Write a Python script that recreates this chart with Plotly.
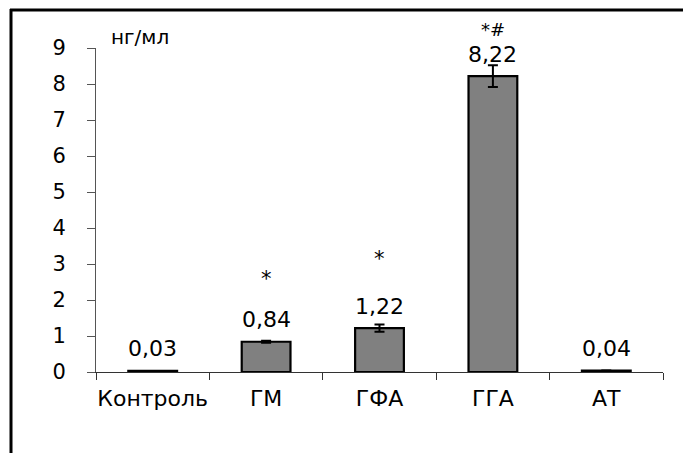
import plotly.graph_objects as go

categories = ["Контроль", "ГМ", "ГФА", "ГГА", "АТ"]
values = [0.03, 0.84, 1.22, 8.22, 0.04]
errors = [0.0, 0.03, 0.10, 0.30, 0.0]
marks = ["", "*", "*", "*#", ""]
unit_label = "нг/мл"
y_ticks = list(range(0, 10))

FONT = "DejaVu Sans"
W, H = 683, 453
ML, MR, MT, MB = 96, 20, 48, 81
PW, PH = W - ML - MR, H - MT - MB

fig = go.Figure()
fig.add_trace(go.Bar(
    x=categories, y=values,
    marker=dict(color="#808080", line=dict(color="black", width=2.2)),
    error_y=dict(type="data", array=errors, visible=True, color="black", thickness=2, width=5),
    width=0.43,
    showlegend=False,
))

# value labels above bars
for c, v in zip(categories, values):
    fig.add_annotation(x=c, y=v, text=f"{v:.2f}".replace(".", ","), showarrow=False,
                       yanchor="middle", yshift=22,
                       font=dict(family=FONT, size=22, color="black"))

# significance marks
mark_shift = {"ГМ": 63, "ГФА": 69, "ГГА": 47}
mark_size = {"ГМ": 21, "ГФА": 21, "ГГА": 18}
for c, v, m in zip(categories, values, marks):
    if m:
        fig.add_annotation(x=c, y=v, text=m, showarrow=False, yanchor="middle",
                           yshift=mark_shift[c],
                           font=dict(family=FONT, size=mark_size[c], color="black"))

fig.add_annotation(xref="paper", yref="paper", x=(109 - ML) / PW, y=(H - MB - 37) / PH,
                   text=unit_label, showarrow=False, xanchor="left", yanchor="middle",
                   font=dict(family=FONT, size=20, color="black"))

# document frame (left and top lines)
def px_x(p):
    return (p - ML) / PW

def px_y(p):
    return (H - MB - p) / PH

fig.add_shape(type="line", xref="paper", yref="paper", x0=px_x(11), x1=px_x(11),
              y0=px_y(9), y1=px_y(460), line=dict(color="black", width=3))
fig.add_shape(type="line", xref="paper", yref="paper", x0=px_x(10), x1=px_x(690),
              y0=px_y(10), y1=px_y(10), line=dict(color="black", width=3))

fig.update_layout(
    width=W, height=H,
    margin=dict(l=ML, r=MR, t=MT, b=MB, pad=0, autoexpand=False),
    paper_bgcolor="white", plot_bgcolor="white",
    font=dict(family=FONT, size=20, color="black"),
    xaxis=dict(type="category", tickson="boundaries", ticks="outside", ticklen=7,
               tickcolor="#333", showline=True, linecolor="#333", linewidth=1,
               showgrid=False, tickfont=dict(family=FONT, size=22, color="black"),
               tickangle=0, automargin=False, ticklabelstandoff=7),
    yaxis=dict(range=[0, 9], tickvals=y_ticks, ticks="outside", ticklen=8,
               tickcolor="#555", showline=True, linecolor="#555", linewidth=1,
               showgrid=False, zeroline=False, automargin=False,
               tickfont=dict(family=FONT, size=21, color="black"),
               ticklabelstandoff=17),
)

fig.write_html("out.html")
